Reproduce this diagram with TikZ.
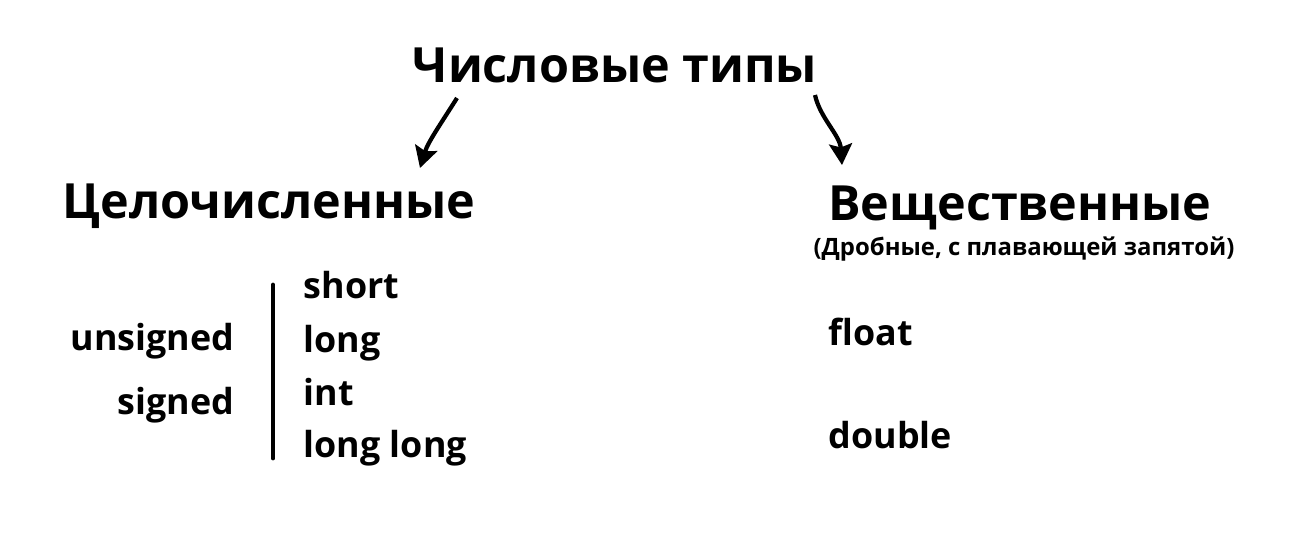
\documentclass[tikz,border=0pt]{standalone}
\usepackage{fontspec}
\setmainfont{Open Sans}[UprightFont=* Bold]
\usetikzlibrary{arrows.meta}
\tikzset{
	bigtext/.style={font=\fontsize{13.8}{16}\selectfont, inner sep=0pt},
	smalltext/.style={font=\fontsize{10.2}{12}\selectfont, inner sep=0pt},
	subtext/.style={font=\fontsize{6.8}{8}\selectfont, inner sep=0pt},
	handarrow/.style={line width=1.2pt, -{Stealth[length=6pt,width=6.5pt,inset=1pt]}}
}
\begin{document}
\begin{tikzpicture}[x=0.1mm,y=-0.1mm]
				\useasboundingbox (0,0) rectangle (1308,544);
				
				\node[bigtext, anchor=base] (title) at (615,82) {Числовые типы};
				\node[bigtext, anchor=base] (integer) at (269,218) {Целочисленные};
				\node[bigtext, anchor=base] (real) at (1020,220) {Вещественные};
				\node[subtext, anchor=base] (realnote) at (1024,255) {(Дробные, с плавающей запятой)};
				
				\node[smalltext, anchor=base east] (unsigned) at (235,350) {unsigned};
				\node[smalltext, anchor=base east] (signed) at (235,414) {signed};
				
				\coordinate (bartop) at (273,285);
				\coordinate (barbottom) at (273,458);
				\draw[line width=1.4pt, line cap=round] (bartop) -- (barbottom);
				
				\node[smalltext, anchor=base west] (short) at (303,298) {short};
				\node[smalltext, anchor=base west] (long) at (303,352) {long};
				\node[smalltext, anchor=base west] (int) at (303,405) {int};
				\node[smalltext, anchor=base west] (longlong) at (303,457) {long long};
				
				\node[smalltext, anchor=base west] (float) at (828,345) {float};
				\node[smalltext, anchor=base west] (double) at (828,448) {double};
				
				\coordinate (leftstart) at (457,98);
				\coordinate (lefttip) at (420,168);
				\coordinate (rightstart) at (815,95);
				\coordinate (righttip) at (842,165);
				\draw[handarrow] (leftstart) .. controls (440,125) and (428,142) .. (lefttip);
				\draw[handarrow] (rightstart) .. controls (820,118) and (840,135) .. (righttip);
			\end{tikzpicture}
\end{document}
